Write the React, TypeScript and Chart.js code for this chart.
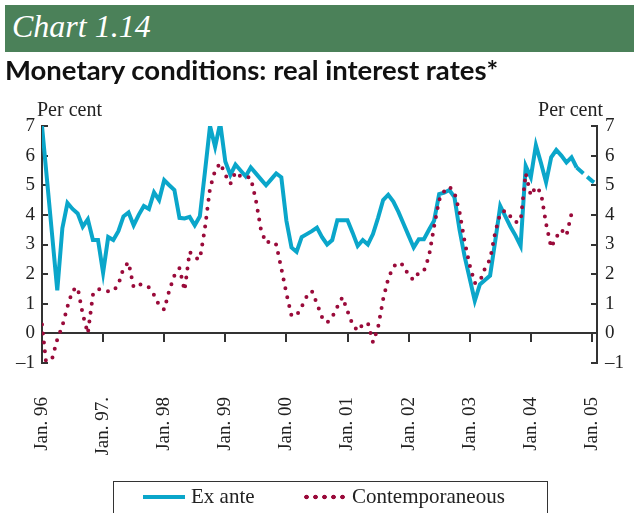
import React, { useEffect, useRef } from 'react';
import { Chart, registerables } from 'chart.js';

Chart.register(...registerables);

// Month index 0 = Jan. 1996
const tickMonths = [0, 12, 24, 36, 48, 60, 72, 84, 96, 108];
const tickLabels = ['Jan. 96', 'Jan. 97.', 'Jan. 98', 'Jan. 99', 'Jan. 00', 'Jan. 01', 'Jan. 02', 'Jan. 03', 'Jan. 04', 'Jan. 05'];
const yTicks = [-1, 0, 1, 2, 3, 4, 5, 6, 7];

// Ex ante real rate, Jan 96 .. Oct 04 (months 0..105)
const exAnte = [
  7.0, 5.15, 3.3, 1.45, 3.55, 4.4, 4.2, 4.05, 3.6, 3.85,
  3.15, 3.15, 2.05, 3.25, 3.15, 3.45, 3.95, 4.08, 3.65, 4.0,
  4.3, 4.2, 4.76, 4.5, 5.17, 5.0, 4.84, 3.9, 3.88, 3.93,
  3.65, 3.95, 5.45, 7.0, 6.3, 7.1, 5.8, 5.35, 5.7, 5.5,
  5.3, 5.6, 5.4, 5.2, 5.0, 5.2, 5.4, 5.27, 3.8, 2.9,
  2.75, 3.25, 3.35, 3.45, 3.57, 3.25, 3.0, 3.15, 3.82, 3.82,
  3.82, 3.4, 2.95, 3.15, 3.0, 3.35, 3.9, 4.5, 4.68, 4.45,
  4.1, 3.7, 3.3, 2.9, 3.18, 3.18, 3.5, 3.8, 4.7, 4.75,
  4.84, 4.6, 3.5, 2.6, 1.85, 1.1, 1.65, 1.8, 1.95, 3.1,
  4.3, 3.95, 3.6, 3.3, 2.95, 5.65, 5.27, 6.35, 5.75, 5.1,
  5.94, 6.19, 6.0, 5.77, 5.94, 5.6,
];
// Ex ante projection, months 105..109
const exAnteProjStart = 105;
const exAnteProjection = [5.6, 5.45, 5.3, 5.15, 5.03];

// Contemporaneous real rate, months 0..104
const contemporaneous = [
  0.3, -1.3, -0.85, -0.2, 0.25, 0.9, 1.45, 1.55, 0.65, 0.0,
  1.3, 1.5, 1.45, 1.42, 1.42, 1.65, 2.2, 2.4, 1.55, 1.65,
  1.65, 1.55, 1.3, 0.95, 0.8, 1.45, 1.95, 2.2, 1.45, 2.75,
  2.55, 2.5, 3.55, 4.9, 5.5, 5.75, 5.35, 5.05, 5.45, 5.3,
  5.3, 5.25, 4.5, 3.5, 3.05, 3.12, 3.0, 2.2, 1.35, 0.6,
  0.6, 0.9, 1.25, 1.43, 1.0, 0.55, 0.36, 0.55, 0.9, 1.22,
  0.75, 0.3, 0.08, 0.3, 0.35, -0.3, 0.2, 1.15, 1.85, 2.25,
  2.4, 2.3, 1.95, 1.8, 2.05, 2.1, 2.6, 3.6, 4.5, 4.8,
  4.95, 4.75, 4.1, 3.1, 2.3, 1.7, 1.75, 2.2, 2.5, 3.4,
  4.05, 4.15, 3.95, 3.75, 3.8, 5.4, 4.65, 4.95, 4.75, 3.7,
  2.9, 3.25, 3.5, 3.3, 4.05,
];

const X_MAX = 109;
const BLUE = '#0aa6ca';
const RED = '#9a0a3a';
const GREEN = '#4b8159';
const AXIS = '#333333';
const SERIF = '"Liberation Serif", "Times New Roman", serif';

const fmtY = (v: number) => (v < 0 ? '\u2013' + Math.abs(v) : String(v));

export default function App() {
  const ref = useRef<HTMLCanvasElement | null>(null);

  useEffect(() => {
    const canvas = ref.current;
    if (!canvas) return;
    const setTicks = (s: any) => {
      s.ticks = tickMonths.map((v) => ({ value: v }));
    };
    const setYTicks = (s: any) => {
      s.ticks = yTicks.map((v) => ({ value: v }));
    };
    const noPad = (s: any) => {
      s.paddingLeft = 0;
      s.paddingRight = 0;
      s.paddingTop = 0;
      s.paddingBottom = 0;
    };
    const tickFont = { family: SERIF, size: 19 };
    const chart = new Chart(canvas, {
      type: 'line',
      data: {
        datasets: [
          {
            label: 'Contemporaneous',
            data: contemporaneous.map((y, i) => ({ x: i, y })),
            borderColor: RED,
            borderWidth: 4,
            borderDash: [0, 9],
            borderCapStyle: 'round',
            pointRadius: 0,
            fill: false,
            tension: 0,
          },
          {
            label: 'Ex ante',
            data: exAnte.map((y, i) => ({ x: i, y })),
            borderColor: BLUE,
            borderWidth: 4,
            pointRadius: 0,
            fill: false,
            tension: 0,
          },
          {
            label: 'Ex ante (projection)',
            data: exAnteProjection.map((y, i) => ({ x: exAnteProjStart + i, y })),
            borderColor: BLUE,
            borderWidth: 4,
            borderDash: [9, 5],
            pointRadius: 0,
            fill: false,
            tension: 0,
          },
        ],
      },
      options: {
        responsive: false,
        animation: false,
        devicePixelRatio: 1,
        layout: { padding: { top: 126, left: 0, right: 0, bottom: 0 } },
        plugins: { legend: { display: false }, tooltip: { enabled: false }, title: { display: false } },
        scales: {
          x: {
            type: 'linear',
            min: 0,
            max: X_MAX,
            afterBuildTicks: setTicks,
            afterFit: (s: any) => {
              s.height = 150;
              noPad(s);
            },
            grid: { display: false, drawTicks: false },
            border: { display: false },
            ticks: {
              autoSkip: false,
              minRotation: 90,
              maxRotation: 90,
              padding: 34,
              font: tickFont,
              color: '#222',
              callback: (_v: any, i: number) => tickLabels[i],
            },
          },
          x2: {
            type: 'linear',
            axis: 'x',
            position: { y: 0 },
            min: 0,
            max: X_MAX,
            afterBuildTicks: setTicks,
            afterFit: noPad,
            grid: { drawOnChartArea: false, tickLength: 8, lineWidth: 2, color: AXIS },
            border: { color: AXIS, width: 2 },
            ticks: { display: false },
          },
          y: {
            position: 'left',
            min: -1,
            max: 7,
            afterBuildTicks: setYTicks,
            afterFit: (s: any) => {
              s.width = 42;
              noPad(s);
            },
            grid: { drawOnChartArea: false, tickLength: -6, lineWidth: 2, color: AXIS },
            border: { color: AXIS, width: 2 },
            ticks: { padding: 13, font: tickFont, color: '#222', callback: (v: any) => fmtY(Number(v)) },
          },
          y2: {
            position: 'right',
            min: -1,
            max: 7,
            afterBuildTicks: setYTicks,
            afterFit: (s: any) => {
              s.width = 37;
              noPad(s);
            },
            grid: { drawOnChartArea: false, tickLength: -6, lineWidth: 2, color: AXIS },
            border: { color: AXIS, width: 2 },
            ticks: { padding: 14, font: tickFont, color: '#222', callback: (v: any) => fmtY(Number(v)) },
          },
        },
      },
    } as any);
    return () => chart.destroy();
  }, []);

  return (
    <div style={{ position: 'absolute', left: 0, top: 0, width: 634, height: 513, overflow: 'hidden', background: '#fff' }}>
      <canvas ref={ref} width={634} height={513} style={{ position: 'absolute', left: 0, top: 0, width: 634, height: 513 }} />
      <div style={{ position: 'absolute', left: 5, top: 5, width: 629, height: 47, background: GREEN }}>
        <span style={{ position: 'absolute', left: 7, top: 3, fontFamily: SERIF, fontStyle: 'italic', fontSize: 32, color: '#fff', whiteSpace: 'nowrap' }}>
          Chart 1.14
        </span>
      </div>
      <div style={{ position: 'absolute', left: 5, top: 53, fontFamily: 'Lato, sans-serif', fontWeight: 'bold', fontSize: 27.5, color: '#111', whiteSpace: 'nowrap' }}>
        Monetary conditions: real interest rates*
      </div>
      <div style={{ position: 'absolute', left: 37, top: 98, fontFamily: SERIF, fontSize: 20, color: '#222', whiteSpace: 'nowrap' }}>Per cent</div>
      <div style={{ position: 'absolute', right: 31, top: 98, fontFamily: SERIF, fontSize: 20, color: '#222', whiteSpace: 'nowrap' }}>Per cent</div>
      <div style={{ position: 'absolute', left: 113, top: 481, width: 435, height: 60, border: '1.5px solid #333', boxSizing: 'border-box' }} />
      <div style={{ position: 'absolute', left: 143, top: 495, width: 42, height: 4, background: BLUE }} />
      <div style={{ position: 'absolute', left: 191, top: 484, fontFamily: SERIF, fontSize: 21, color: '#222', whiteSpace: 'nowrap' }}>Ex ante</div>
      <div
        style={{
          position: 'absolute',
          left: 302,
          top: 494,
          width: 45,
          height: 6,
          background: `radial-gradient(circle, ${RED} 2px, transparent 2.6px) 0 0 / 9px 6px repeat-x`,
        }}
      />
      <div style={{ position: 'absolute', left: 352, top: 484, fontFamily: SERIF, fontSize: 21, color: '#222', whiteSpace: 'nowrap' }}>Contemporaneous</div>
    </div>
  );
}
